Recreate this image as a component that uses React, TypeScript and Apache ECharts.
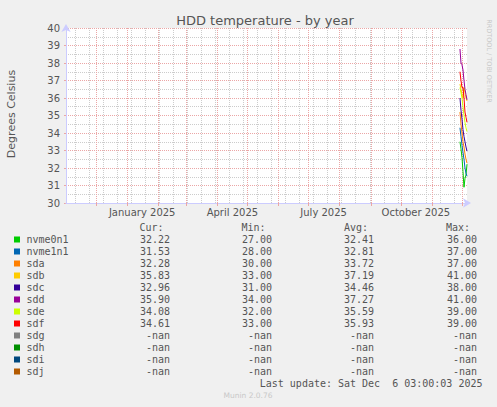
import { useEffect, useRef } from 'react';
import * as echarts from 'echarts';

// time range of the yearly graph (one category per day)
const FIRST_DAY = '2024-11-01';
const LAST_DAY = '2025-12-06';

// days for which there is data
const recentDays = [
  '2025-11-29', '2025-11-30', '2025-12-01', '2025-12-02',
  '2025-12-03', '2025-12-04', '2025-12-05', '2025-12-06',
];

const nvme0n1 = [33.5, 33.1, 32.6, 31.8, 30.9, 31.4, 31.6, 32.22];
const nvme1n1 = [34.3, 33.8, 33.3, 32.9, 32.5, 32.0, 31.7, 31.53];
const sda = [35.2, 34.5, 34.0, 33.5, 33.2, 32.8, 32.5, 32.28];
const sdb = [36.8, 36.5, 36.2, 36.0, 36.6, 36.3, 36.0, 35.83];
const sdc = [36.0, 35.3, 34.8, 34.2, 33.8, 33.5, 33.2, 32.96];
const sdd = [38.8, 38.0, 37.9, 37.6, 37.0, 36.5, 36.2, 35.9];
const sde = [36.6, 36.3, 36.0, 35.5, 35.0, 34.6, 34.3, 34.08];
const sdf = [37.5, 37.0, 36.6, 36.6, 36.0, 35.2, 34.9, 34.61];

const seriesNames = ['nvme0n1', 'nvme1n1', 'sda', 'sdb', 'sdc', 'sdd', 'sde', 'sdf', 'sdg', 'sdh', 'sdi', 'sdj'];
const seriesValues: number[][] = [nvme0n1, nvme1n1, sda, sdb, sdc, sdd, sde, sdf, [], [], [], []];
const seriesColors = [
  '#00cc00', '#0066b3', '#ff8000', '#ffcc00', '#330099', '#990099',
  '#ccff00', '#ff0000', '#808080', '#008f00', '#00487d', '#b35a00',
];

const curValues = ['32.22', '31.53', '32.28', '35.83', '32.96', '35.90', '34.08', '34.61', '-nan', '-nan', '-nan', '-nan'];
const minValues = ['27.00', '28.00', '30.00', '33.00', '31.00', '34.00', '32.00', '33.00', '-nan', '-nan', '-nan', '-nan'];
const avgValues = ['32.41', '32.81', '33.72', '37.19', '34.46', '37.27', '35.59', '35.93', '-nan', '-nan', '-nan', '-nan'];
const maxValues = ['36.00', '37.00', '37.00', '41.00', '38.00', '41.00', '39.00', '39.00', '-nan', '-nan', '-nan', '-nan'];

const monthLabelDays = ['2025-01-16', '2025-04-16', '2025-07-16', '2025-10-16'];
const monthLabels = ['January 2025', 'April 2025', 'July 2025', 'October 2025'];

const buildDays = () => {
  const out: string[] = [];
  const end = Date.parse(LAST_DAY + 'T00:00:00Z');
  for (let t = Date.parse(FIRST_DAY + 'T00:00:00Z'); t <= end; t += 86400000) {
    out.push(new Date(t).toISOString().slice(0, 10));
  }
  return out;
};

const TEXT = '#555555';
const MAJOR = '#eba6a6';
const MINOR = '#cccccc';
const MONO = "'DejaVu Sans Mono', monospace";
const SANS = "'DejaVu Sans', sans-serif";

const App = () => {
  const chartRef = useRef<HTMLDivElement>(null);

  useEffect(() => {
    if (!chartRef.current) return;
    const chart = echarts.init(chartRef.current, undefined, { renderer: 'svg' });

    const days = buildDays();
    const isMonthStart = (index: number) => index > 0 && days[index].endsWith('-01');
    const isMinorLine = (index: number) => index % 14 === 9;

    // legend block drawn like rrdtool's text legend
    const rowY = (i: number) => 239.5 + i * 12;
    const legend: any[] = [
      { type: 'text', x: 163.5, y: 227.5, style: { text: 'Cur:', fill: TEXT, font: `10px ${MONO}`, align: 'right', verticalAlign: 'middle' } },
      { type: 'text', x: 265.5, y: 227.5, style: { text: 'Min:', fill: TEXT, font: `10px ${MONO}`, align: 'right', verticalAlign: 'middle' } },
      { type: 'text', x: 368, y: 227.5, style: { text: 'Avg:', fill: TEXT, font: `10px ${MONO}`, align: 'right', verticalAlign: 'middle' } },
      { type: 'text', x: 470, y: 227.5, style: { text: 'Max:', fill: TEXT, font: `10px ${MONO}`, align: 'right', verticalAlign: 'middle' } },
    ];
    seriesNames.forEach((name, i) => {
      const y = rowY(i);
      legend.push(
        { type: 'rect', shape: { x: 14, y: y - 3, width: 6, height: 6 }, style: { fill: seriesColors[i] } },
        { type: 'text', x: 26.5, y, style: { text: name, fill: TEXT, font: `10px ${MONO}`, verticalAlign: 'middle' } },
        { type: 'text', x: 170, y, style: { text: curValues[i], fill: TEXT, font: `10px ${MONO}`, align: 'right', verticalAlign: 'middle' } },
        { type: 'text', x: 272, y, style: { text: minValues[i], fill: TEXT, font: `10px ${MONO}`, align: 'right', verticalAlign: 'middle' } },
        { type: 'text', x: 374, y, style: { text: avgValues[i], fill: TEXT, font: `10px ${MONO}`, align: 'right', verticalAlign: 'middle' } },
        { type: 'text', x: 477, y, style: { text: maxValues[i], fill: TEXT, font: `10px ${MONO}`, align: 'right', verticalAlign: 'middle' } },
      );
    });

    const options: echarts.EChartsOption = {
      animation: false,
      backgroundColor: '#f0f0f0',
      textStyle: { fontFamily: SANS },
      grid: {
        left: 66, top: 28, width: 401, height: 175,
        show: true, backgroundColor: '#ffffff', borderWidth: 0,
      },
      xAxis: [
        {
          type: 'category',
          data: days,
          boundaryGap: false,
          axisLine: {
            lineStyle: { color: '#ccccff', width: 1 },
            symbol: ['none', 'arrow'],
            symbolSize: [7, 8],
            symbolOffset: [0, 4],
          },
          axisTick: {
            show: true,
            interval: (index: number) => isMonthStart(index),
            length: 3,
            lineStyle: { color: MAJOR },
          },
          axisLabel: {
            interval: (_i: number, value: string) => monthLabelDays.includes(value),
            formatter: (value: string) => monthLabels[monthLabelDays.indexOf(value)] ?? '',
            color: TEXT,
            fontSize: 10,
            margin: 4,
            fontFamily: SANS,
          },
          splitLine: {
            show: true,
            interval: (index: number) => isMonthStart(index),
            lineStyle: { color: MAJOR, type: [1, 1], width: 1 },
          },
          z: 3,
        },
        {
          type: 'category',
          data: days,
          boundaryGap: false,
          position: 'bottom',
          axisLine: { show: false },
          axisTick: { show: false },
          axisLabel: { show: false },
          splitLine: {
            show: true,
            interval: (index: number) => isMinorLine(index),
            lineStyle: { color: MINOR, type: [1, 1], width: 1 },
          },
          z: 2,
        },
      ],
      yAxis: {
        type: 'value',
        min: 30,
        max: 40,
        interval: 1,
        axisLine: {
          show: true,
          lineStyle: { color: '#ccccff', width: 1 },
          symbol: ['none', 'arrow'],
          symbolSize: [7, 8],
          symbolOffset: [0, 4],
        },
        axisTick: { show: true, length: 2, lineStyle: { color: MAJOR } },
        axisLabel: { color: TEXT, fontSize: 10, margin: 6, fontFamily: SANS },
        splitLine: { show: true, lineStyle: { color: MAJOR, type: [1, 1], width: 1 } },
        minorTick: { show: false, splitNumber: 2 },
        minorSplitLine: { show: true, lineStyle: { color: MINOR, type: [1, 1], width: 1 } },
      },
      series: seriesNames.map((name, i) => ({
        name,
        type: 'line' as const,
        xAxisIndex: 0,
        data: seriesValues[i].map((v, k) => [recentDays[k], v]),
        showSymbol: false,
        symbol: 'none',
        lineStyle: { color: seriesColors[i], width: 1 },
        itemStyle: { color: seriesColors[i] },
        z: 5,
      })),
      graphic: [
        {
          type: 'text', x: 265, y: 20,
          style: { text: 'HDD temperature - by year', fill: TEXT, font: `13px ${SANS}`, align: 'center', verticalAlign: 'middle' },
        },
        {
          type: 'text', x: 11, y: 114, rotation: Math.PI / 2,
          style: { text: 'Degrees Celsius', fill: TEXT, font: `11px ${SANS}`, align: 'center', verticalAlign: 'middle' },
        },
        {
          type: 'text', x: 488.5, y: 61, rotation: -Math.PI / 2,
          style: { text: 'RRDTOOL / TOBI OETIKER', fill: '#c8c8c8', font: `6.5px ${SANS}`, align: 'center', verticalAlign: 'middle' },
        },
        ...legend,
        {
          type: 'text', x: 482.5, y: 383.5,
          style: { text: 'Last update: Sat Dec  6 03:00:03 2025', fill: TEXT, font: `10px ${MONO}`, align: 'right', verticalAlign: 'middle' },
        },
        {
          type: 'text', x: 248, y: 395.5,
          style: { text: 'Munin 2.0.76', fill: '#c8c8c8', font: `7.5px ${SANS}`, align: 'center', verticalAlign: 'middle' },
        },
      ],
    };

    chart.setOption(options);
    return () => chart.dispose();
  }, []);

  return (
    <div
      ref={chartRef}
      style={{ position: 'fixed', left: 0, top: 0, width: 497, height: 407 }}
    />
  );
};

export default App;
